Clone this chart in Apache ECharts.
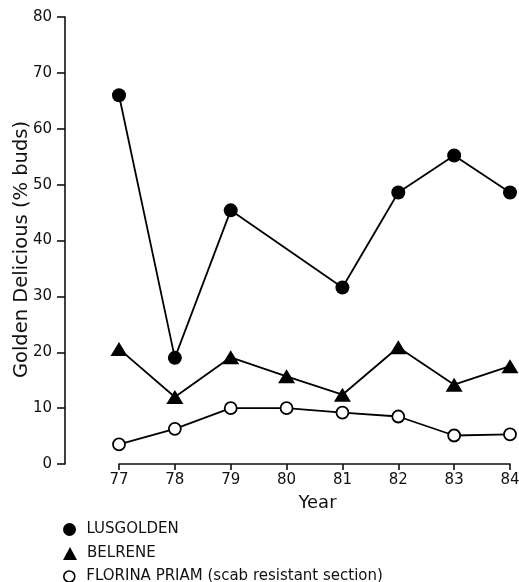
<!DOCTYPE html>
<html>
<head>
<meta charset="utf-8">
<script src="https://cdn.jsdelivr.net/npm/echarts@6/dist/echarts.min.js"></script>
<style>
html,body{margin:0;padding:0;background:#fff;}
#chart{width:519px;height:582px;}
</style>
</head>
<body>
<div id="chart"></div>
<script>
var years = [77, 78, 79, 80, 81, 82, 83, 84];
var lusgolden = [66.0, 19.0, 45.4, null, 31.6, 48.6, 55.2, 48.6];
var belrene = [20.6, 12.0, 19.1, 15.7, 12.4, 20.9, 14.2, 17.5];
var florina = [3.5, 6.3, 10.0, 10.0, 9.2, 8.5, 5.1, 5.3];
var seriesNames = ['LUSGOLDEN', 'BELRENE', 'FLORINA PRIAM (scab resistant section)'];
var yTitle = 'Golden Delicious (% buds)';
var xTitle = 'Year';

function pairs(vals) {
  return years.map(function (y, i) { return [y, vals[i]]; });
}

var FONT = 'DejaVu Sans';
var legendIcons = ['circle', 'triangle', 'circle'];
var legendStyles = [
  {color: '#000', borderWidth: 0},
  {color: '#000', borderWidth: 0},
  {color: '#fff', borderColor: '#000', borderWidth: 1.6}
];
var legendTops = [522, 546, 569];
var legends = seriesNames.map(function (n, i) {
  return {
    orient: 'vertical', left: 63, top: legendTops[i], padding: 0,
    itemWidth: 14, itemHeight: i === 2 ? 11 : 13,
    textStyle: {fontFamily: FONT, fontSize: 15, color: '#111', padding: [0, 0, 0, 5]},
    data: [{name: n, icon: legendIcons[i], itemStyle: legendStyles[i]}]
  };
});

var chart = echarts.init(document.getElementById('chart'), null, {renderer: 'canvas'});
chart.setOption({
  backgroundColor: '#fff',
  animation: false,
  textStyle: {fontFamily: FONT, color: '#111'},
  grid: {left: 119, right: 9, top: 17, bottom: 118, containLabel: false, outerBoundsMode: 'none'},
  xAxis: {
    type: 'value', min: 77, max: 84, interval: 1,
    name: xTitle, nameLocation: 'middle', nameGap: 30, nameMoveOverlap: false,
    nameTextStyle: {fontFamily: FONT, fontSize: 18, color: '#111', padding: [0, 0, 0, 6]},
    axisLine: {show: true, onZero: false, lineStyle: {color: '#111', width: 1.6}},
    axisTick: {show: true, length: 6, inside: false, lineStyle: {color: '#111', width: 1.6}},
    axisLabel: {fontFamily: FONT, fontSize: 15, color: '#111', margin: 9},
    splitLine: {show: false}
  },
  yAxis: {
    type: 'value', min: 0, max: 80, interval: 10, offset: 54,
    name: yTitle, nameLocation: 'middle', nameGap: 33, nameRotate: 90, nameMoveOverlap: false,
    nameTextStyle: {fontFamily: FONT, fontSize: 19.5, color: '#111', padding: [0, 18, 0, 0]},
    axisLine: {show: true, lineStyle: {color: '#111', width: 1.6}},
    axisTick: {show: true, length: 8, lineStyle: {color: '#111', width: 1.6}},
    axisLabel: {fontFamily: FONT, fontSize: 15, color: '#111', margin: 13},
    splitLine: {show: false}
  },
  legend: legends,
  series: [
    {
      name: seriesNames[0], type: 'line', data: pairs(lusgolden), connectNulls: true,
      symbol: 'circle', symbolSize: 14,
      lineStyle: {color: '#000', width: 1.8},
      itemStyle: {color: '#000', borderWidth: 0}
    },
    {
      name: seriesNames[1], type: 'line', data: pairs(belrene),
      symbol: 'triangle', symbolSize: [17, 14],
      lineStyle: {color: '#000', width: 1.8},
      itemStyle: {color: '#000', borderWidth: 0}
    },
    {
      name: seriesNames[2], type: 'line', data: pairs(florina),
      symbol: 'circle', symbolSize: 12,
      lineStyle: {color: '#000', width: 1.8},
      itemStyle: {color: '#fff', borderColor: '#000', borderWidth: 1.8}
    }
  ]
});
</script>
</body>
</html>
